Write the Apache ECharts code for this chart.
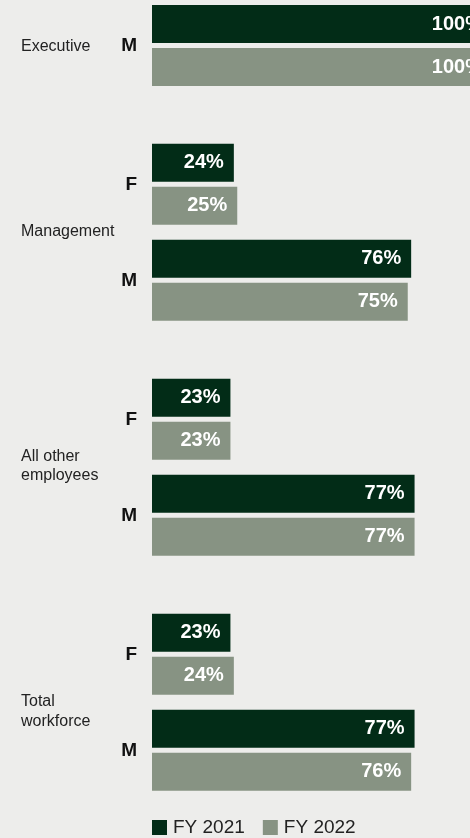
<!DOCTYPE html>
<html>
<head>
<meta charset="utf-8">
<script src="https://cdn.jsdelivr.net/npm/echarts@6/dist/echarts.min.js"></script>
<style>
html,body{margin:0;padding:0;background:#EDEDEB;}
#c{width:470px;height:838px;}
</style>
</head>
<body>
<div id="c"></div>
<script>
// ---- data ----
const groups = ['Executive', 'Management', 'All other\nemployees', 'Total\nworkforce'];
const genders = [['M'], ['F', 'M'], ['F', 'M'], ['F', 'M']];
const fy2021 = [[100], [24, 76], [23, 77], [23, 77]];
const fy2022 = [[100], [25, 75], [23, 77], [24, 76]];
const seriesNames = ['FY 2021', 'FY 2022'];

// ---- style / layout ----
const FONT = "'Liberation Sans', Arial, Helvetica, sans-serif";
const C1 = '#022c17', C2 = '#879383';
const gridTops = [5, 136.3, 371.3, 606.3];
const gridHeights = [81, 192, 192, 192];
const groupLabelY = [47, 232, 466, 712];
const groupLineH = [19, 19, 19, 20];

const grid = [], xAxis = [], yAxis = [], series = [];
groups.forEach((g, i) => {
  grid.push({left: 152, width: 341, top: gridTops[i], height: gridHeights[i],
    containLabel: false, outerBoundsMode: 'none'});
  xAxis.push({gridIndex: i, type: 'value', min: 0, max: 100, show: false});
  yAxis.push({
    gridIndex: i, type: 'category', data: genders[i], inverse: true,
    axisLine: {show: false}, axisTick: {show: false}, splitLine: {show: false},
    axisLabel: {margin: 15, fontFamily: FONT, fontWeight: 'bold', fontSize: 19, color: '#111'}
  });
  [fy2021, fy2022].forEach((arr, k) => {
    series.push({
      name: seriesNames[k], type: 'bar', xAxisIndex: i, yAxisIndex: i,
      data: arr[i], barWidth: 38, barGap: '13.2%', clip: false,
      itemStyle: {color: k === 0 ? C1 : C2},
      label: {show: true, position: 'insideRight', distance: 10, formatter: '{c}%',
        color: '#fff', fontFamily: FONT, fontWeight: 'bold', fontSize: 20},
      silent: true, animation: false
    });
  });
});

const chart = echarts.init(document.getElementById('c'), null, {renderer: 'canvas'});
chart.setOption({
  backgroundColor: '#EDEDEB',
  animation: false,
  grid, xAxis, yAxis, series,
  graphic: groups.map((g, i) => ({
    type: 'text', x: 21, y: groupLabelY[i],
    style: {text: g, fill: '#222', font: '16px ' + FONT, lineHeight: groupLineH[i], verticalAlign: 'middle', align: 'left'}
  })),
  legend: {
    data: seriesNames, left: 152, top: 818, padding: 0, icon: 'rect', itemWidth: 15, itemHeight: 15, itemGap: 18,
    textStyle: {fontFamily: FONT, fontSize: 19, color: '#222', padding: [0, 0, 0, 1]}
  }
});
</script>
</body>
</html>
